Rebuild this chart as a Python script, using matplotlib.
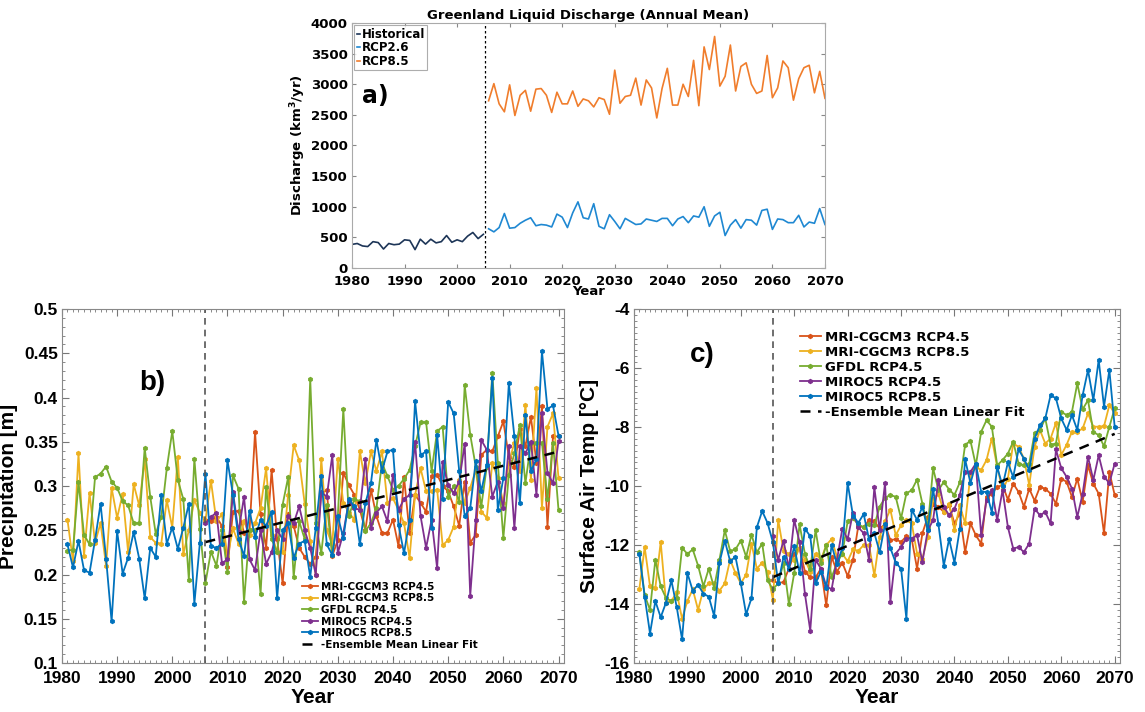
import numpy as np
import matplotlib.pyplot as plt
from matplotlib.ticker import MultipleLocator, FuncFormatter

# ---- panel a: Greenland liquid discharge (km3/yr) ----
a_hist_years = np.arange(1980, 2006)
a_fut_years = np.arange(2006, 2071)
a_hist = [385, 400, 360, 350, 430, 415, 310, 400, 380, 390, 460, 450, 300,
          470, 390, 470, 410, 430, 530, 420, 460, 430, 520, 580, 480, 550]
a_rcp26 = [640, 590, 660, 890, 650, 660, 730, 780, 820, 690,
           710, 700, 670, 880, 830, 660, 900, 1080, 820, 800,
           1050, 680, 640, 870, 760, 640, 810, 760, 710, 720,
           800, 780, 760, 810, 810, 690, 800, 840, 740, 850,
           830, 1000, 680, 850, 910, 530, 700, 790, 650, 790,
           780, 700, 940, 960, 630, 800, 790, 740, 740, 860,
           670, 750, 730, 970, 710]
a_rcp85 = [2730, 3010, 2680, 2550, 2990, 2490, 2820, 2900, 2560, 2920,
           2930, 2820, 2540, 2870, 2680, 2680, 2890, 2640, 2760, 2730,
           2630, 2780, 2750, 2510, 3230, 2690, 2800, 2820, 3100, 2660,
           3070, 2940, 2450, 2930, 3260, 2660, 2660, 3000, 2800, 3390,
           2650, 3610, 3240, 3780, 2970, 3130, 3640, 2890, 3290, 3350,
           3000, 2850, 2890, 3470, 2780, 2940, 3380, 3270, 2740, 3090,
           3270, 3310, 2860, 3210, 2770]

# ---- panels b and c: model runs ----
hist_years = np.arange(1981, 2006)
fut_years = np.arange(2006, 2071)
model_names = ["MRI-CGCM3 RCP4.5", "MRI-CGCM3 RCP8.5", "GFDL RCP4.5",
               "MIROC5 RCP4.5", "MIROC5 RCP8.5"]
model_colors = ["#D95319", "#EDB120", "#77AC30", "#7E2F8E", "#0072BD"]

# precipitation [m]
b_mri85_hist = [0.262, 0.215, 0.337, 0.221, 0.292, 0.236, 0.258, 0.210, 0.298, 0.264,
                0.291, 0.225, 0.302, 0.278, 0.330, 0.242, 0.236, 0.235, 0.284, 0.253,
                0.333, 0.223, 0.250, 0.284, 0.270]
b_gfdl_hist = [0.227, 0.228, 0.304, 0.245, 0.234, 0.310, 0.314, 0.322, 0.305, 0.298,
               0.283, 0.278, 0.258, 0.258, 0.343, 0.288, 0.246, 0.265, 0.320, 0.362,
               0.307, 0.285, 0.194, 0.331, 0.251]
b_miroc85_hist = [0.234, 0.208, 0.238, 0.205, 0.202, 0.239, 0.280, 0.218, 0.147, 0.249,
                  0.201, 0.219, 0.248, 0.218, 0.173, 0.230, 0.220, 0.290, 0.235, 0.253,
                  0.229, 0.253, 0.280, 0.167, 0.236]
b_mri45 = [0.262, 0.260, 0.265, 0.255, 0.208, 0.271, 0.272, 0.247, 0.250, 0.361,
           0.268, 0.230, 0.318, 0.240, 0.190, 0.268, 0.255, 0.230, 0.220, 0.212,
           0.220, 0.292, 0.295, 0.221, 0.239, 0.315, 0.301, 0.290, 0.273, 0.250,
           0.296, 0.266, 0.247, 0.247, 0.262, 0.232, 0.310, 0.247, 0.290, 0.281,
           0.271, 0.311, 0.313, 0.300, 0.294, 0.277, 0.255, 0.305, 0.236, 0.245,
           0.335, 0.341, 0.339, 0.356, 0.373, 0.333, 0.322, 0.364, 0.345, 0.378,
           0.326, 0.390, 0.254, 0.356, 0.356]
b_mri85 = [0.261, 0.306, 0.260, 0.268, 0.220, 0.252, 0.235, 0.260, 0.245, 0.258,
           0.275, 0.320, 0.245, 0.226, 0.226, 0.290, 0.346, 0.329, 0.280, 0.238,
           0.200, 0.331, 0.250, 0.234, 0.331, 0.281, 0.270, 0.262, 0.339, 0.303,
           0.339, 0.317, 0.339, 0.281, 0.286, 0.273, 0.258, 0.219, 0.290, 0.320,
           0.294, 0.294, 0.296, 0.233, 0.239, 0.254, 0.307, 0.281, 0.298, 0.318,
           0.271, 0.264, 0.326, 0.309, 0.281, 0.326, 0.349, 0.317, 0.392, 0.307,
           0.411, 0.275, 0.367, 0.382, 0.309]
b_gfdl = [0.190, 0.226, 0.210, 0.250, 0.203, 0.312, 0.297, 0.169, 0.250, 0.250,
          0.178, 0.299, 0.240, 0.225, 0.279, 0.310, 0.197, 0.260, 0.240, 0.421,
          0.258, 0.224, 0.279, 0.222, 0.266, 0.387, 0.266, 0.285, 0.283, 0.249,
          0.258, 0.275, 0.326, 0.311, 0.296, 0.300, 0.308, 0.318, 0.345, 0.372,
          0.372, 0.317, 0.362, 0.367, 0.288, 0.300, 0.282, 0.414, 0.358, 0.322,
          0.277, 0.322, 0.428, 0.326, 0.241, 0.313, 0.337, 0.369, 0.303, 0.349,
          0.349, 0.349, 0.285, 0.349, 0.273]
b_miroc45 = [0.258, 0.265, 0.270, 0.213, 0.217, 0.293, 0.248, 0.288, 0.217, 0.205,
             0.250, 0.212, 0.225, 0.250, 0.240, 0.266, 0.258, 0.277, 0.250, 0.230,
             0.200, 0.293, 0.288, 0.335, 0.224, 0.247, 0.283, 0.275, 0.273, 0.331,
             0.253, 0.270, 0.277, 0.260, 0.313, 0.273, 0.285, 0.290, 0.350, 0.266,
             0.230, 0.262, 0.207, 0.327, 0.301, 0.292, 0.305, 0.348, 0.176, 0.262,
             0.352, 0.341, 0.288, 0.305, 0.275, 0.345, 0.252, 0.345, 0.337, 0.350,
             0.290, 0.382, 0.315, 0.303, 0.351]
b_miroc85 = [0.314, 0.232, 0.230, 0.235, 0.329, 0.290, 0.240, 0.221, 0.272, 0.242,
             0.262, 0.255, 0.271, 0.173, 0.250, 0.258, 0.219, 0.235, 0.238, 0.197,
             0.253, 0.311, 0.234, 0.222, 0.266, 0.241, 0.285, 0.277, 0.234, 0.281,
             0.303, 0.352, 0.317, 0.339, 0.341, 0.256, 0.224, 0.262, 0.396, 0.335,
             0.339, 0.253, 0.358, 0.285, 0.395, 0.382, 0.317, 0.266, 0.275, 0.328,
             0.294, 0.324, 0.422, 0.273, 0.309, 0.416, 0.356, 0.281, 0.380, 0.317,
             0.330, 0.452, 0.387, 0.391, 0.357]

# surface air temperature [C]
c_mri85_hist = [-13.5, -12.07, -13.4, -13.45, -11.9, -13.95, -13.9, -13.6, -14.5, -13.9,
                -13.5, -14.2, -13.5, -13.3, -13.3, -13.55, -13.3, -12.5, -12.95, -13.3,
                -13.0, -11.95, -12.8, -12.6, -12.9]
c_gfdl_hist = [-12.25, -13.7, -14.2, -12.5, -13.4, -13.8, -13.9, -13.8, -12.1, -12.3,
               -12.15, -12.7, -13.4, -12.8, -13.45, -12.5, -11.5, -12.2, -12.15, -11.85,
               -12.4, -11.65, -12.25, -11.95, -13.2]
c_miroc85_hist = [-12.3, -13.75, -15.0, -13.9, -14.45, -13.95, -13.2, -14.1, -15.2, -12.95,
                  -13.55, -13.35, -13.65, -13.75, -14.4, -12.6, -11.85, -12.55, -12.4, -13.3,
                  -14.35, -13.8, -11.4, -10.85, -11.25]
c_mri45 = [-13.2, -13.3, -13.25, -12.8, -12.3, -12.1, -12.9, -13.1, -13.1, -12.8,
           -14.05, -12.4, -12.9, -12.6, -13.05, -12.5, -11.35, -11.4, -11.16, -11.2,
           -11.44, -11.3, -11.84, -11.8, -11.9, -11.7, -11.8, -12.8, -11.6, -11.05,
           -10.6, -10.7, -10.88, -10.65, -11.27, -10.93, -12.24, -11.27, -11.67, -11.95,
           -10.37, -10.26, -10.03, -9.97, -10.46, -9.92, -10.2, -10.7, -10.09, -10.5,
           -10.03, -10.09, -10.26, -10.6, -9.75, -9.86, -10.37, -9.75, -10.54, -9.3,
           -9.92, -10.26, -11.6, -9.52, -10.31]
c_mri85 = [-13.85, -11.15, -12.2, -12.3, -12.5, -12.1, -12.5, -12.9, -12.3, -12.5,
           -12.0, -11.8, -12.4, -12.3, -12.55, -12.15, -12.2, -12.0, -12.0, -13.03,
           -11.73, -11.2, -10.8, -11.67, -11.33, -11.16, -11.27, -12.29, -12.46, -11.73,
           -10.43, -10.26, -10.88, -10.6, -11.5, -10.65, -11.27, -9.58, -9.35, -9.46,
           -9.12, -8.39, -9.35, -10.14, -9.75, -8.56, -8.67, -9.07, -9.97, -8.67,
           -8.1, -8.56, -8.39, -7.86, -8.95, -8.6, -8.16, -8.16, -8.05, -7.54,
           -7.99, -7.99, -7.97, -7.26, -7.54]
c_gfdl = [-13.5, -13.3, -12.6, -14.0, -12.95, -11.3, -12.3, -12.8, -11.5, -12.6,
          -12.0, -13.1, -12.6, -12.3, -11.2, -11.1, -11.3, -11.4, -11.3, -11.33,
          -10.7, -10.4, -10.3, -10.37, -11.1, -10.25, -10.14, -9.78, -10.6, -11.4,
          -9.4, -10.14, -9.86, -10.12, -10.3, -9.88, -8.6, -8.47, -9.3, -8.16,
          -7.77, -7.99, -9.3, -9.12, -8.9, -8.5, -9.24, -9.3, -9.24, -8.2,
          -8.1, -7.71, -8.6, -8.56, -7.48, -7.6, -7.48, -6.52, -7.4, -7.09,
          -8.16, -8.28, -8.65, -7.99, -7.37]
c_miroc45 = [-11.7, -12.5, -11.85, -12.8, -11.15, -11.9, -13.65, -14.9, -12.5, -12.8,
             -13.4, -13.5, -12.5, -11.45, -11.8, -10.9, -11.4, -11.6, -12.5, -10.05,
             -11.5, -9.9, -13.93, -12.29, -12.07, -11.78, -11.78, -11.67, -12.57, -11.5,
             -11.16, -9.8, -10.7, -10.99, -10.77, -10.3, -9.52, -9.52, -9.24, -11.67,
             -10.48, -10.14, -11.16, -10.14, -11.39, -12.12, -12.07, -12.24, -11.95, -10.77,
             -10.99, -10.88, -11.27, -8.76, -9.4, -9.69, -10.09, -11.05, -10.26, -9.01,
             -9.8, -8.96, -9.69, -9.9, -9.24]
c_miroc85 = [-11.9, -13.3, -12.4, -12.8, -12.05, -12.95, -11.45, -11.7, -13.3, -12.9,
             -13.45, -12.0, -12.65, -12.1, -9.9, -11.0, -11.25, -10.95, -11.8, -11.6,
             -12.24, -11.3, -12.1, -12.6, -12.8, -14.5, -10.8, -11.15, -10.7, -11.5,
             -10.1, -11.3, -12.7, -11.8, -12.6, -11.45, -9.1, -9.9, -9.25, -10.2,
             -10.2, -10.9, -9.35, -10.0, -9.2, -9.7, -8.76, -9.07, -9.46, -8.39,
             -7.94, -7.71, -6.92, -7.03, -7.71, -8.1, -7.6, -8.1, -6.92, -6.07,
             -7.09, -5.73, -7.31, -6.07, -8.0]

FONT = "Liberation Sans"
plt.rcParams["font.weight"] = "bold"

fig = plt.figure(figsize=(11.45, 7.12), dpi=100)

# ---------------- a) ----------------
ax = fig.add_axes([0.3074, 0.6236, 0.4131, 0.3441])
ax.plot(a_hist_years, a_hist, color="#1d3557", lw=1.2, label="Historical")
ax.plot(a_fut_years, a_rcp26, color="#1f88d2", lw=1.2, label="RCP2.6")
ax.plot(a_fut_years, a_rcp85, color="#f07d2c", lw=1.2, label="RCP8.5")
ax.axvline(2005.4, color="k", ls=(0, (2, 2)), lw=0.9)
ax.set_xlim(1980, 2070)
ax.set_ylim(0, 4000)
ax.set_xticks(np.arange(1980, 2071, 10))
ax.set_yticks(np.arange(0, 4001, 500))
ax.tick_params(direction="in", top=True, right=True, length=3, color="#888888",
               labelsize=9.5)
ax.tick_params(axis="x", pad=5)
ax.tick_params(axis="y", pad=3)
for lbl in ax.get_xticklabels() + ax.get_yticklabels():
    lbl.set_fontweight("bold")
for s in ax.spines.values():
    s.set_color("#aaaaaa")
ax.set_title("Greenland Liquid Discharge (Annual Mean)", fontsize=9.5,
             fontweight="bold", pad=3)
ax.set_ylabel("Discharge (km$^\\mathbf{3}$/yr)", fontsize=9.5, fontweight="bold",
              labelpad=2)
ax.set_xlabel("Year", fontsize=9.5, fontweight="bold", labelpad=-2)
ax.text(0.05, 0.70, "a)", transform=ax.transAxes, fontsize=17, fontweight="bold",
        ha="center", va="center")
leg = ax.legend(loc="upper left", handlelength=0.3, handletextpad=0.1,
                borderpad=0.2, labelspacing=0.05, borderaxespad=0.2, fancybox=False,
                prop={"weight": "bold", "size": 8.5})
leg.get_frame().set_edgecolor("#999999")
leg.get_frame().set_linewidth(0.8)


def model_panel(ax, hist, fut, ylim, ystep, yminor, ylabel, tag, tagpos, legpos, legsize):
    runs = [(None, fut[0]), (hist[0], fut[1]), (hist[1], fut[2]),
            (None, fut[3]), (hist[2], fut[4])]
    for (h, f), name, col in zip(runs, model_names, model_colors):
        if h is None:
            x, y = fut_years, f
        else:
            x = np.concatenate([hist_years, fut_years])
            y = np.concatenate([h, f])
        ax.plot(x, y, color=col, lw=1.3, marker="h", ms=2.8, label=name)
    # linear fit of the ensemble mean over the projection period
    ens = np.mean(np.array(fut), axis=0)
    k, b0 = np.polyfit(fut_years, ens, 1)
    ax.plot(fut_years, k * fut_years + b0, color="k", ls=(0, (4, 3)), lw=1.8,
            label="-Ensemble Mean Linear Fit")
    ax.axvline(2006, color="#555555", ls=(0, (4, 3)), lw=1.2)
    ax.set_xlim(1980, 2071)
    ax.set_ylim(*ylim)
    ax.set_xticks(np.arange(1980, 2071, 10))
    ax.yaxis.set_major_locator(MultipleLocator(ystep))
    ax.yaxis.set_major_formatter(FuncFormatter(lambda v, p: "%g" % round(v, 3)))
    ax.xaxis.set_minor_locator(MultipleLocator(1))
    ax.yaxis.set_minor_locator(MultipleLocator(yminor))
    ax.tick_params(which="both", direction="in", top=True, right=True, color="#777777")
    ax.tick_params(which="major", length=5, labelsize=12.5)
    ax.tick_params(axis="x", which="major", pad=6)
    ax.tick_params(axis="y", which="major", pad=3)
    ax.tick_params(which="minor", length=2.5)
    for lbl in ax.get_xticklabels() + ax.get_yticklabels():
        lbl.set_fontweight("bold")
        lbl.set_family(FONT)
    for s in ax.spines.values():
        s.set_color("#888888")
    ax.set_xlabel("Year", fontsize=15, fontweight="bold", family=FONT, labelpad=1)
    ax.set_ylabel(ylabel, fontsize=15, fontweight="bold", family=FONT, labelpad=4)
    ax.text(tagpos[0], tagpos[1], tag, transform=ax.transAxes, fontsize=20,
            fontweight="bold", family=FONT, ha="center", va="center")
    ax.legend(loc=legpos[0], bbox_to_anchor=legpos[1], frameon=False,
              prop={"weight": "bold", "size": legsize}, handlelength=1.6,
              handletextpad=0.3, labelspacing=0.15, borderpad=0.1)


# ---------------- b) ----------------
axb = fig.add_axes([0.0541, 0.0688, 0.4385, 0.4972])
model_panel(axb, [b_mri85_hist, b_gfdl_hist, b_miroc85_hist],
            [b_mri45, b_mri85, b_gfdl, b_miroc45, b_miroc85],
            (0.1, 0.5), 0.05, 0.01, "Precipitation [m]", "b)", (0.18, 0.79),
            ("lower left", (0.465, 0.02)), 7.5)

# ---------------- c) ----------------
axc = fig.add_axes([0.5537, 0.0688, 0.4245, 0.4972])
model_panel(axc, [c_mri85_hist, c_gfdl_hist, c_miroc85_hist],
            [c_mri45, c_mri85, c_gfdl, c_miroc45, c_miroc85],
            (-16, -4), 2, 0.2, "Surface Air Temp [\u00b0C]", "c)", (0.14, 0.87),
            ("upper left", (0.325, 0.96)), 9.5)

fig.savefig("out.png", dpi=100)
